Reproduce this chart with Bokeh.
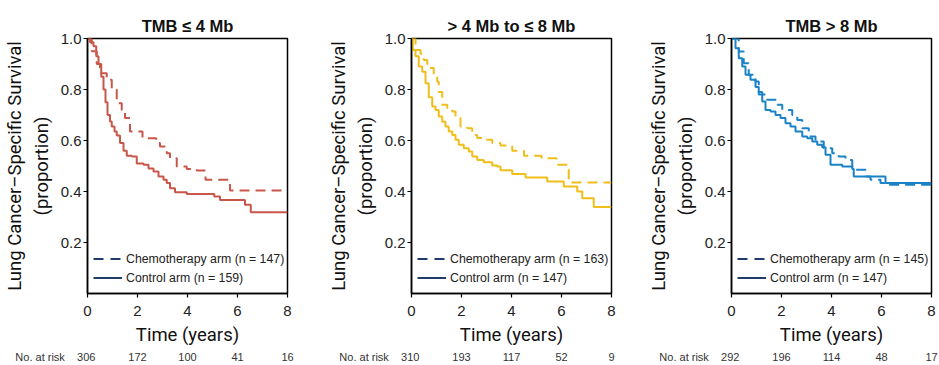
from bokeh.plotting import figure
from bokeh.layouts import row
from bokeh.models import Range1d, FixedTicker, Legend, LegendItem, LinearAxis
from bokeh.embed import file_html
from bokeh.resources import INLINE

# ---------------- data ----------------
titles = ["TMB \u2264 4 Mb", "> 4 Mb to \u2264 8 Mb", "TMB > 8 Mb"]
n_chemo = [147, 163, 145]
n_control = [159, 147, 147]
risk_title = "No. at risk"
risk_times = [0, 2, 4, 6, 8]
risk1 = [306, 172, 100, 41, 16]
risk2 = [310, 193, 117, 52, 9]
risk3 = [292, 196, 114, 48, 17]
x_ticks = [0, 2, 4, 6, 8]
y_ticks = [0.2, 0.4, 0.6, 0.8, 1.0]
y_tick_labels = ["0.2", "0.4", "0.6", "0.8", "1.0"]

# panel 1 (TMB <= 4)
ctrl1_t = [0, 0.1, 0.24, 0.35, 0.44, 0.55, 0.64, 0.72, 0.8, 0.9, 0.97, 1.08, 1.17, 1.3, 1.44, 1.57, 1.77, 1.97,
           2.24, 2.44, 2.64, 2.84, 3.04, 3.17, 3.3, 3.5, 3.97, 5.07, 5.3, 6.3, 6.53, 8]
ctrl1_s = [1.0, 0.985, 0.97, 0.93, 0.90, 0.85, 0.80, 0.75, 0.70, 0.675, 0.655, 0.635, 0.62, 0.59, 0.56, 0.54, 0.537, 0.51,
           0.505, 0.49, 0.478, 0.459, 0.446, 0.433, 0.413, 0.397, 0.39, 0.38, 0.367, 0.348, 0.319, 0.319]
chemo1_t = [0, 0.17, 0.37, 0.5, 0.57, 0.77, 0.97, 1.17, 1.37, 1.5, 1.7, 2.2, 2.75, 2.9, 3.17, 3.3, 3.57, 3.97,
            4.37, 4.72, 5.7, 8]
chemo1_s = [1.0, 0.95, 0.90, 0.885, 0.864, 0.838, 0.80, 0.746, 0.72, 0.688, 0.635, 0.609, 0.59, 0.576, 0.55, 0.53,
            0.498, 0.488, 0.482, 0.446, 0.404, 0.404]

# panel 2 (4 to 8)
ctrl2_t = [0, 0.05, 0.16, 0.29, 0.43, 0.56, 0.69, 0.83, 0.96, 1.09, 1.23, 1.36, 1.49, 1.63, 1.76, 1.89, 2.09, 2.29,
           2.43, 2.63, 2.89, 3.23, 3.43, 3.56, 4.03, 4.56, 5.43, 6.09, 6.63, 6.83, 7.29, 8]
ctrl2_s = [1.0, 0.955, 0.93, 0.89, 0.87, 0.825, 0.77, 0.733, 0.72, 0.694, 0.674, 0.655, 0.635, 0.622, 0.603, 0.583,
           0.57, 0.557, 0.537, 0.524, 0.515, 0.502, 0.498, 0.483, 0.469, 0.455, 0.439, 0.42, 0.40, 0.374, 0.339, 0.339]
chemo2_t = [0, 0.16, 0.36, 0.49, 0.63, 0.89, 1.03, 1.09, 1.23, 1.43, 1.63, 1.76, 1.96, 2.23, 2.43, 2.63, 2.89,
            3.23, 3.56, 4.03, 4.5, 5.2, 5.8, 6.29, 8]
chemo2_s = [1.0, 0.955, 0.94, 0.916, 0.884, 0.85, 0.83, 0.79, 0.74, 0.727, 0.714, 0.688, 0.655, 0.648, 0.622, 0.61,
            0.603, 0.59, 0.58, 0.56, 0.54, 0.53, 0.505, 0.435, 0.435]

# panel 3 (TMB > 8)
ctrl3_t = [0, 0.16, 0.29, 0.43, 0.56, 0.76, 0.96, 1.09, 1.23, 1.36, 1.56, 1.76, 1.96, 2.16, 2.36, 2.56, 2.83, 3.03,
           3.23, 3.43, 3.63, 3.76, 3.96, 4.43, 4.83, 4.89, 6.16, 8]
ctrl3_s = [1.0, 0.962, 0.923, 0.89, 0.858, 0.838, 0.81, 0.79, 0.753, 0.72, 0.714, 0.70, 0.688, 0.668, 0.655, 0.635,
           0.616, 0.609, 0.596, 0.583, 0.574, 0.544, 0.505, 0.498, 0.488, 0.459, 0.433, 0.433]
chemo3_t = [0, 0.29, 0.49, 0.69, 0.96, 1.09, 1.36, 1.83, 2.03, 2.43, 2.63, 2.83, 3.09, 3.36, 3.69, 4.03, 4.29, 4.56,
            4.83, 5.36, 5.56, 5.96, 6.1, 8]
chemo3_s = [1.0, 0.949, 0.903, 0.858, 0.831, 0.78, 0.76, 0.74, 0.72, 0.70, 0.68, 0.648, 0.616, 0.596, 0.57, 0.55,
            0.537, 0.524, 0.485, 0.459, 0.446, 0.433, 0.426, 0.426]

colors = ["#C8574A", "#F0BE1A", "#1A83C6"]
NAVY = "#1F3C68"
LABEL_FONT = "Roboto"
FONT = "Liberation Sans"
NBSP = "\u00a0"


def make_panel(title, ct, cs, kt, ks, color, nc, nk, risk, width, bl, br):
    p = figure(width=width, height=365, x_range=Range1d(0, 8), y_range=Range1d(0, 1.0),
               output_backend="svg", toolbar_location=None,
               min_border_left=bl, min_border_right=br, min_border_top=38, min_border_bottom=72,
               title=title)
    p.title.align = "center"
    p.title.text_font = FONT
    p.title.text_font_size = "16.5px"
    p.title.text_font_style = "bold"
    p.title.text_color = "#111111"
    p.title.standoff = 8
    p.xgrid.visible = False
    p.ygrid.visible = False
    p.outline_line_color = "black"
    p.outline_line_width = 1.5
    p.background_fill_color = "white"
    p.border_fill_color = "white"

    for ax in (p.xaxis[0], p.yaxis[0]):
        ax.axis_line_color = "black"
        ax.axis_line_width = 1.5
        ax.major_tick_line_color = "black"
        ax.major_tick_line_width = 1.2
        ax.major_tick_out = 4
        ax.major_tick_in = 0
        ax.minor_tick_line_color = None
        ax.major_label_text_font = FONT
        ax.major_label_text_font_size = "15px"
        ax.major_label_text_color = "#222222"
        ax.axis_label_text_font = LABEL_FONT
        ax.axis_label_text_font_size = "18.5px"
        ax.axis_label_text_font_style = "normal"
        ax.axis_label_text_color = "#111111"
    p.xaxis.ticker = FixedTicker(ticks=x_ticks)
    p.yaxis.ticker = FixedTicker(ticks=y_ticks)
    p.yaxis.major_label_overrides = {t: s for t, s in zip(y_ticks, y_tick_labels)}
    p.xaxis.major_label_standoff = 8
    p.yaxis.major_label_standoff = 2
    p.xaxis.axis_label = "Time (years)"
    p.xaxis.axis_label_standoff = 5
    p.yaxis.axis_label = "Lung Cancer\u2013Specific Survival\n(proportion)"
    p.yaxis.axis_label_standoff = 5

    p.step(kt, ks, mode="after", line_color=color, line_width=2, line_dash="10 6")
    p.step(ct, cs, mode="after", line_color=color, line_width=2)

    # legend keys are drawn in navy (hidden proxy renderers of the same series)
    r_d = p.line(kt, ks, line_color=NAVY, line_width=2, line_dash="10 7", visible=False)
    r_s = p.line(ct, cs, line_color=NAVY, line_width=2, visible=False)
    leg = Legend(items=[LegendItem(label=f"Chemotherapy arm (n = {nk})", renderers=[r_d]),
                        LegendItem(label=f"Control arm (n = {nc})", renderers=[r_s])],
                 location=(6, 7), padding=0, margin=0, spacing=2,
                 glyph_width=29, glyph_height=17, label_height=17, label_standoff=4,
                 border_line_alpha=0, background_fill_alpha=0,
                 label_text_font=FONT, label_text_font_size="12.3px", label_text_color="#222222")
    p.add_layout(leg)

    # number-at-risk row: a second, line-less axis below the time axis
    prefix = risk_title + NBSP * 4
    labels = {t: str(n) for t, n in zip(risk_times, risk)}
    labels[risk_times[0]] = prefix + labels[risk_times[0]] + NBSP * 21
    rax = LinearAxis(ticker=FixedTicker(ticks=risk_times), major_label_overrides=labels)
    rax.axis_line_color = None
    rax.major_tick_line_color = None
    rax.minor_tick_line_color = None
    rax.major_tick_out = 0
    rax.major_tick_in = 0
    rax.major_label_standoff = 2
    rax.major_label_text_font = FONT
    rax.major_label_text_font_size = "11px"
    rax.major_label_text_color = "#333333"
    p.add_layout(rax, "below")
    return p


p1 = make_panel(titles[0], ctrl1_t, ctrl1_s, chemo1_t, chemo1_s, colors[0], n_control[0], n_chemo[0], risk1, 318, 87, 31)
p2 = make_panel(titles[1], ctrl2_t, ctrl2_s, chemo2_t, chemo2_s, colors[1], n_control[1], n_chemo[1], risk2, 322, 93, 29)
p3 = make_panel(titles[2], ctrl3_t, ctrl3_s, chemo3_t, chemo3_s, colors[2], n_control[2], n_chemo[2], risk3, 299, 91, 8)

layout = row(p1, p2, p3, spacing=0)
open("out.html", "w").write(file_html(layout, INLINE))
